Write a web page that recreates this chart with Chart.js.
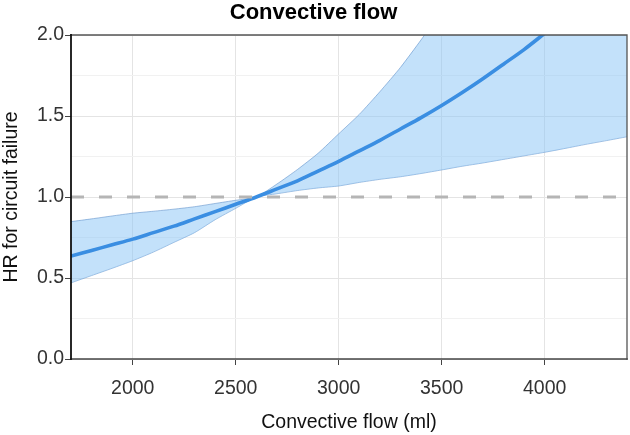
<!DOCTYPE html>
<html><head><meta charset="utf-8">
<script src="https://cdn.jsdelivr.net/npm/chart.js@4/dist/chart.umd.min.js"></script>
<style>html,body{margin:0;padding:0;background:#fff}#c{display:block}</style>
</head><body>
<canvas id="c" width="630" height="435"></canvas>
<script>
// ---- data ----
const flowMl   = [1700,1800,1900,2000,2100,2200,2300,2400,2500,2600,2700,2800,2900,3000,3100,3200,3300,3400,3500,3600,3700,3800,3900,4000,4100,4200,4300,4400];
const hrEst    = [0.635,0.67,0.705,0.74,0.78,0.82,0.865,0.91,0.955,1.0,1.05,1.10,1.16,1.22,1.285,1.35,1.42,1.49,1.565,1.645,1.73,1.82,1.91,2.01,2.11,2.22,2.33,2.44];
const ciLower  = [0.47,0.515,0.56,0.607,0.66,0.72,0.78,0.86,0.93,1.0,1.02,1.04,1.056,1.068,1.09,1.109,1.125,1.145,1.167,1.19,1.21,1.232,1.254,1.276,1.30,1.325,1.348,1.372];
const ciUpper  = [0.848,0.865,0.883,0.90,0.912,0.925,0.94,0.96,0.98,1.0,1.08,1.17,1.27,1.39,1.51,1.65,1.80,1.97,2.15,2.33,2.52,2.72,2.93,3.15,3.38,3.62,3.87,4.13];
const refHR    = 1.0;
const xTicks   = [2000,2500,3000,3500,4000];
const yMajor   = [0,0.5,1,1.5,2];
const yMinor   = [0.25,0.75,1.25,1.75];
const xRange   = [1700,4400];
const yRange   = [0,2];

const FONT = "'Liberation Sans', Arial, sans-serif";
const pts = ys => flowMl.map((x,i)=>({x, y: ys[i]}));

const panelBorder = {
  id:'panelBorder',
  afterDraw(chart){
    const {ctx, chartArea:a} = chart;
    ctx.save();
    ctx.lineCap = 'square';
    ctx.strokeStyle = '#555'; ctx.lineWidth = 1.3;
    ctx.beginPath();
    ctx.moveTo(a.left, a.top); ctx.lineTo(a.right, a.top); ctx.lineTo(a.right, a.bottom);
    ctx.stroke();
    ctx.strokeStyle = '#444'; ctx.lineWidth = 1.6;
    ctx.beginPath(); ctx.moveTo(a.left, a.bottom); ctx.lineTo(a.right, a.bottom); ctx.stroke();
    ctx.strokeStyle = '#111'; ctx.lineWidth = 1.8;
    ctx.beginPath(); ctx.moveTo(a.left, a.top); ctx.lineTo(a.left, a.bottom); ctx.stroke();
    ctx.restore();
  }
};

new Chart(document.getElementById('c'), {
  type: 'line',
  data: {
    datasets: [
      { label:'ref', data: xRange.map(x=>({x, y: refHR})), borderColor:'#b5b5b5', borderWidth:3.2,
        borderDash:[13,15], pointRadius:0, fill:false, order:0 },
      { label:'HR', data: pts(hrEst), borderColor:'#3a8ee2', borderWidth:3.6, pointRadius:0,
        fill:false, tension:0.3, order:1 },
      { label:'lower', data: pts(ciLower), borderColor:'rgba(90,140,200,0.7)', borderWidth:0.8,
        pointRadius:0, fill:false, tension:0.2, order:3 },
      { label:'upper', data: pts(ciUpper), borderColor:'rgba(90,140,200,0.7)', borderWidth:0.8,
        pointRadius:0, fill:{target:2}, backgroundColor:'rgba(135,195,245,0.5)', tension:0.2, order:2 }
    ]
  },
  options: {
    responsive:false, animation:false, devicePixelRatio:1,
    layout:{ padding:{ left:0, right:3, top:0, bottom:0 } },
    plugins:{
      legend:{ display:false }, tooltip:{ enabled:false },
      title:{ display:true, text:'Convective flow', color:'#000',
        font:{ family:FONT, size:22, weight:'bold', lineHeight:1.2 }, padding:{ top:0, bottom:8.6 } }
    },
    scales:{
      x:{ type:'linear', min:xRange[0], max:xRange[1],
        afterBuildTicks: s => { s.ticks = xTicks.map(v=>({value:v})); },
        afterFit: s => { s.height = 76; },
        border:{ display:false },
        grid:{ color:'#e4e4e4', lineWidth:1, tickColor:'#444', tickLength:6, drawTicks:true },
        ticks:{ color:'#333', font:{ family:FONT, size:19.5 }, padding:12, maxRotation:0,
          callback: v => String(v) },
        title:{ display:true, text:'Convective flow (ml)', color:'#111',
          font:{ family:FONT, size:19.5 }, padding:{ top:0, bottom:1 } }
      },
      y:{ type:'linear', min:yRange[0], max:yRange[1],
        afterBuildTicks: s => { s.ticks = yMajor.concat(yMinor).sort((a,b)=>a-b).map(v=>({value:v})); },
        afterFit: s => { s.width = 71; },
        border:{ display:false },
        grid:{
          color: c => (c.tick && yMajor.includes(c.tick.value)) ? '#e4e4e4' : '#f1f1f1',
          tickColor: c => (c.tick && yMajor.includes(c.tick.value)) ? '#444' : 'rgba(0,0,0,0)',
          lineWidth:1, tickLength:6 },
        ticks:{ color:'#333', font:{ family:FONT, size:19.5 }, padding:1,
          callback: v => yMajor.includes(v) ? v.toFixed(1) : '' },
        title:{ display:true, text:'HR for circuit failure', color:'#111',
          font:{ family:FONT, size:19.5 }, padding:{ top:0, bottom:0 } }
      }
    }
  },
  plugins:[panelBorder]
});
</script>
</body></html>
